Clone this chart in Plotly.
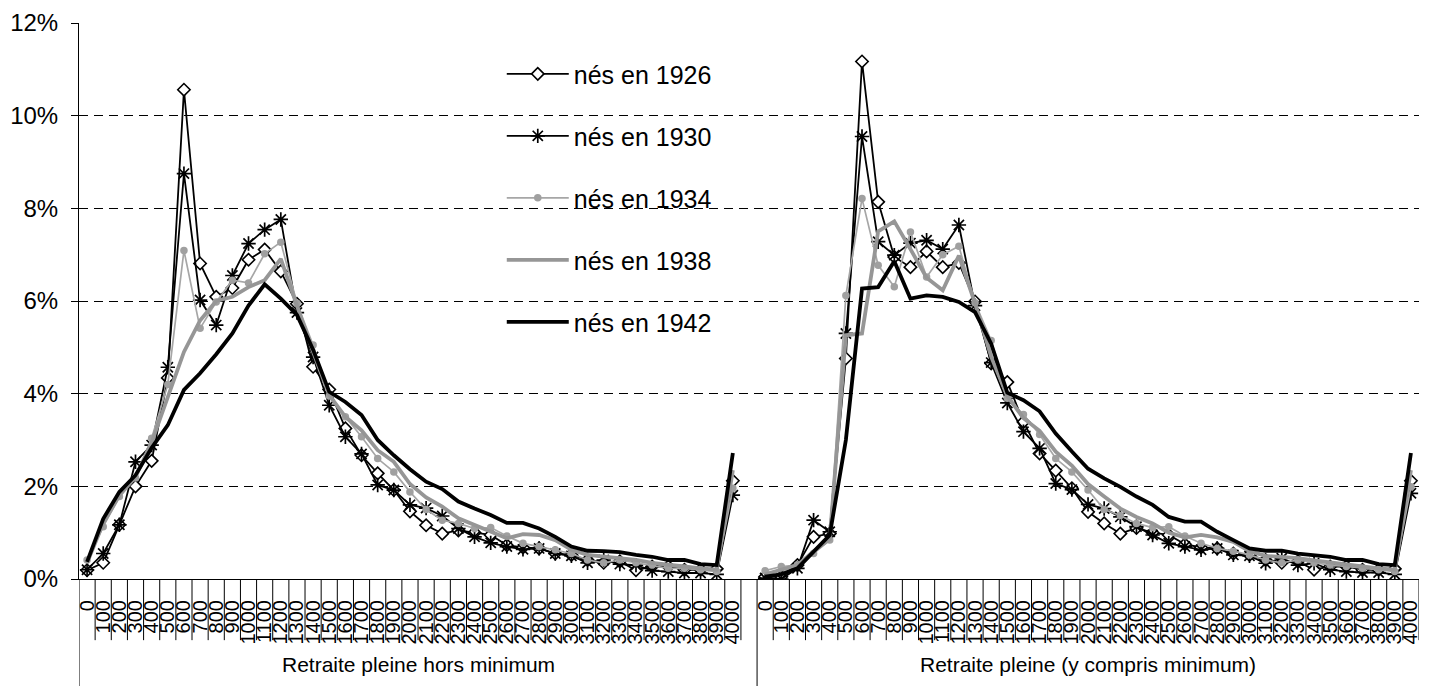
import plotly.graph_objects as go

CATEGORIES = ["0", "100", "200", "300", "400", "500", "600", "700", "800", "900",
              "1000", "1100", "1200", "1300", "1400", "1500", "1600", "1700", "1800", "1900",
              "2000", "2100", "2200", "2300", "2400", "2500", "2600", "2700", "2800", "2900",
              "3000", "3100", "3200", "3300", "3400", "3500", "3600", "3700", "3800", "3900", "4000"]
GROUPS = ["Retraite pleine hors minimum", "Retraite pleine (y compris minimum)"]
SERIES_NAMES = ["nés en 1926", "nés en 1930", "nés en 1934", "nés en 1938", "nés en 1942"]

# Panel 1: Retraite pleine hors minimum (values in %)
hors_1926 = [0.19, 0.35, 1.17, 2.00, 2.55, 4.34, 10.56, 6.81, 6.09, 6.28, 6.89, 7.11, 6.64, 5.94, 4.58, 4.09, 3.25, 2.67, 2.28, 1.92,
             1.46, 1.16, 0.98, 1.05, 1.00, 0.95, 0.73, 0.68, 0.66, 0.55, 0.52, 0.41, 0.35, 0.38, 0.19, 0.27, 0.27, 0.20, 0.20, 0.22, 2.12]
hors_1930 = [0.20, 0.55, 1.17, 2.53, 2.89, 4.57, 8.75, 6.02, 5.48, 6.55, 7.24, 7.54, 7.76, 5.75, 4.79, 3.75, 3.07, 2.70, 2.03, 1.92,
             1.60, 1.53, 1.36, 1.09, 0.91, 0.78, 0.70, 0.64, 0.66, 0.55, 0.50, 0.35, 0.41, 0.32, 0.30, 0.18, 0.16, 0.13, 0.13, 0.10, 1.81]
hors_1934 = [0.41, 1.13, 1.78, 2.18, 3.04, 4.20, 7.09, 5.41, 5.98, 6.45, 6.39, 7.02, 7.27, 5.95, 5.05, 3.95, 3.50, 3.07, 2.60, 2.31,
             1.88, 1.50, 1.27, 1.20, 1.09, 1.11, 0.93, 0.77, 0.70, 0.63, 0.55, 0.41, 0.35, 0.41, 0.35, 0.30, 0.23, 0.23, 0.20, 0.16, 1.96]
hors_1938 = [0.35, 1.20, 1.80, 2.20, 2.95, 3.90, 4.90, 5.58, 6.00, 6.09, 6.30, 6.45, 6.91, 5.90, 4.90, 3.97, 3.50, 3.21, 2.78, 2.53,
             2.05, 1.76, 1.56, 1.31, 1.16, 1.02, 0.88, 0.97, 0.95, 0.84, 0.63, 0.52, 0.49, 0.45, 0.41, 0.35, 0.30, 0.27, 0.23, 0.20, 2.35]
hors_1942 = [0.37, 1.30, 1.88, 2.24, 2.83, 3.32, 4.08, 4.44, 4.85, 5.30, 5.90, 6.36, 6.05, 5.70, 4.95, 4.04, 3.82, 3.54, 3.00, 2.67,
             2.37, 2.10, 1.94, 1.67, 1.52, 1.38, 1.21, 1.21, 1.09, 0.91, 0.70, 0.61, 0.60, 0.58, 0.52, 0.48, 0.41, 0.41, 0.32, 0.30, 2.72]

# Panel 2: Retraite pleine (y compris minimum) (values in %)
ycomp_1926 = [0.05, 0.05, 0.30, 0.91, 0.98, 4.76, 11.17, 8.14, 6.95, 6.73, 7.07, 6.73, 6.82, 5.99, 4.65, 4.25, 3.39, 2.71, 2.34, 1.96,
              1.45, 1.20, 0.98, 1.10, 1.00, 0.95, 0.75, 0.68, 0.66, 0.55, 0.52, 0.41, 0.35, 0.38, 0.20, 0.27, 0.27, 0.20, 0.20, 0.22, 2.12]
ycomp_1930 = [0.02, 0.00, 0.23, 1.27, 1.02, 5.30, 9.55, 7.28, 6.99, 7.25, 7.31, 7.12, 7.64, 5.90, 4.67, 3.80, 3.18, 2.82, 2.06, 1.93,
              1.61, 1.52, 1.34, 1.13, 0.95, 0.77, 0.70, 0.63, 0.66, 0.52, 0.50, 0.34, 0.45, 0.30, 0.34, 0.20, 0.16, 0.14, 0.14, 0.10, 1.85]
ycomp_1934 = [0.18, 0.27, 0.30, 0.55, 0.84, 6.12, 8.21, 6.77, 6.31, 7.49, 6.52, 7.00, 7.18, 5.96, 5.15, 3.90, 3.55, 3.12, 2.60, 2.31,
              1.92, 1.50, 1.37, 1.20, 1.11, 1.13, 0.93, 0.77, 0.66, 0.60, 0.52, 0.41, 0.35, 0.41, 0.35, 0.30, 0.27, 0.23, 0.20, 0.16, 1.99]
ycomp_1938 = [0.10, 0.20, 0.30, 0.60, 0.86, 5.26, 5.30, 7.50, 7.72, 7.12, 6.50, 6.23, 6.98, 5.95, 4.80, 3.95, 3.47, 3.20, 2.75, 2.45,
              2.05, 1.78, 1.52, 1.34, 1.20, 1.00, 0.90, 0.95, 0.90, 0.80, 0.60, 0.50, 0.48, 0.45, 0.40, 0.35, 0.30, 0.27, 0.23, 0.20, 2.35]
ycomp_1942 = [0.05, 0.10, 0.23, 0.59, 0.95, 3.00, 6.27, 6.30, 6.86, 6.05, 6.12, 6.09, 5.98, 5.76, 5.08, 4.02, 3.86, 3.62, 3.14, 2.75,
              2.38, 2.17, 1.99, 1.78, 1.60, 1.34, 1.24, 1.24, 1.02, 0.84, 0.66, 0.61, 0.61, 0.55, 0.52, 0.48, 0.41, 0.41, 0.32, 0.30, 2.72]

Y_TICKS = [0, 2, 4, 6, 8, 10, 12]
Y_TICK_TEXT = ["0%", "2%", "4%", "6%", "8%", "10%", "12%"]

panel1 = [hors_1926, hors_1930, hors_1934, hors_1938, hors_1942]
panel2 = [ycomp_1926, ycomp_1930, ycomp_1934, ycomp_1938, ycomp_1942]

n = len(CATEGORIES)
x_pos = list(range(2 * n + 1))   # one blank category between the two groups
tickvals = list(range(n)) + list(range(n + 1, 2 * n + 1))
ticktext = CATEGORIES + CATEGORIES

styles = [
    dict(line=dict(color="black", width=1.8), mode="lines+markers",
         marker=dict(symbol="diamond", size=9.5, color="white", line=dict(color="black", width=1.6))),
    dict(line=dict(color="black", width=1.8), mode="lines+markers",
         marker=dict(symbol="asterisk-open", size=12, color="black", line=dict(color="black", width=1.7))),
    dict(line=dict(color="#a6a6a6", width=1.7), mode="lines+markers",
         marker=dict(symbol="circle", size=7.5, color="#a0a0a0", line=dict(width=0))),
    dict(line=dict(color="#969696", width=3.8), mode="lines"),
    dict(line=dict(color="black", width=3.8), mode="lines"),
]

fig = go.Figure()
for name, p1, p2, st in zip(SERIES_NAMES, panel1, panel2, styles):
    y = list(p1) + [None] + list(p2)
    fig.add_trace(go.Scatter(x=x_pos, y=y, name=name, legendgroup=name,
                             connectgaps=False, **st))

# category separators (multi-level category axis look)
shapes = []
for k in list(range(0, n)) + list(range(n + 1, 2 * n + 1)):
    shapes.append(dict(type="line", xref="x", yref="paper", x0=k + 0.5, x1=k + 0.5,
                       y0=0, y1=-0.11, line=dict(color="black", width=1)))
for xb in [-0.5, n + 0.5]:
    shapes.append(dict(type="line", xref="x", yref="paper", x0=xb, x1=xb,
                       y0=0, y1=-0.2, line=dict(color="black", width=1)))

annotations = []
for g, center in zip(GROUPS, [n / 2.0, n + 1 + (n - 1) / 2.0]):
    annotations.append(dict(text=g, xref="x", yref="paper", x=center, y=-0.153,
                            showarrow=False, xanchor="center", yanchor="middle",
                            font=dict(family="Liberation Sans, Arial", size=21, color="black")))

fig.update_layout(
    width=1430, height=686,
    margin=dict(l=79, r=9, t=23, b=107),
    paper_bgcolor="white", plot_bgcolor="white",
    font=dict(family="Liberation Sans, Arial", color="black"),
    showlegend=True,
    legend=dict(x=0.3155, y=0.9495, xanchor="left", yanchor="top",
                font=dict(size=25, family="Liberation Sans, Arial", color="black"),
                bgcolor="rgba(255,255,255,0)", traceorder="grouped",
                tracegroupgap=26.5, itemwidth=62),
    shapes=shapes,
    annotations=annotations,
)

fig.update_xaxes(range=[-0.5, 2 * n + 0.5], tickmode="array", tickvals=tickvals, ticktext=ticktext,
                 tickangle=-90, ticks="", showgrid=False, zeroline=False,
                 showline=True, linecolor="black", linewidth=1,
                 tickfont=dict(size=20, family="Liberation Sans, Arial", color="black"),
                 ticklabelstandoff=12)
fig.update_yaxes(range=[0, 12], tickmode="array", tickvals=Y_TICKS, ticktext=Y_TICK_TEXT,
                 ticks="outside", ticklen=7, tickcolor="black",
                 showgrid=True, gridcolor="black", gridwidth=1, griddash="9px,6px",
                 zeroline=False, showline=True, linecolor="black", linewidth=1,
                 tickfont=dict(size=24, family="Liberation Sans, Arial", color="black"),
                 ticklabelstandoff=8)

fig.write_html("out.html")
